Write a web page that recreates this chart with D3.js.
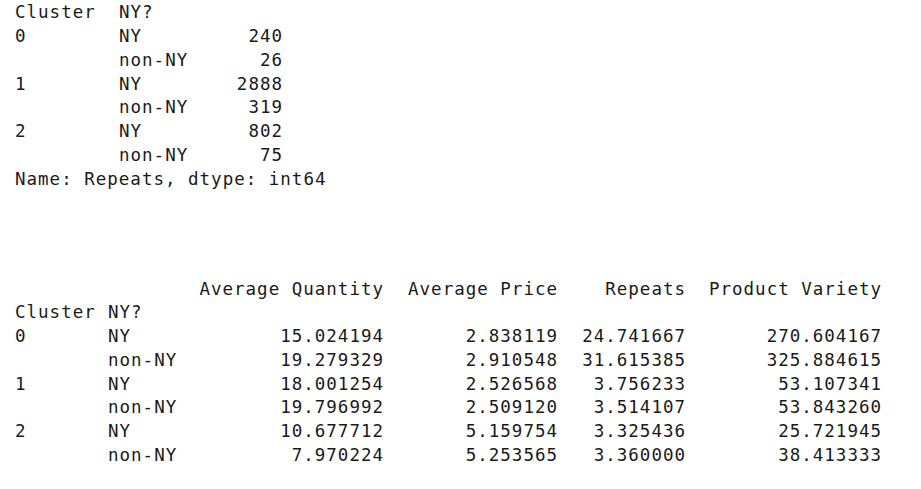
<!DOCTYPE html>
<html><head><meta charset="utf-8">
<script src="https://cdn.jsdelivr.net/npm/d3@7"></script>
<style>body{margin:0;background:#fff}</style>
</head><body>
<script>
const clusters = ["0","","1","","2",""];
const region = ["NY","non-NY","NY","non-NY","NY","non-NY"];
const repeatCounts = [240,26,2888,319,802,75];
const columns = ["Average Quantity","Average Price","Repeats","Product Variety"];
const avgQuantity = ["15.024194","19.279329","18.001254","19.796992","10.677712","7.970224"];
const avgPrice = ["2.838119","2.910548","2.526568","2.509120","5.159754","5.253565"];
const repeats = ["24.741667","31.615385","3.756233","3.514107","3.325436","3.360000"];
const variety = ["270.604167","325.884615","53.107341","53.843260","25.721945","38.413333"];

const W=921,H=489;
const svg=d3.select("body").append("svg").attr("width",W).attr("height",H)
  .style("font-family","'DejaVu Sans Mono', monospace").style("font-size","17.5px")
  .style("letter-spacing","1px").style("fill","#1a1a1a");
const t=(x,y,s,anchor)=>svg.append("text").attr("x",anchor==="end"?x+1:x).attr("y",y).attr("text-anchor",anchor||"start").attr("xml:space","preserve").text(s);

// table 1
const y1=d3.scaleLinear().domain([0,1]).range([42,65.8]);
t(15,18,"Cluster");t(119,18,"NY?");
region.forEach((r,i)=>{t(15,y1(i),clusters[i]);t(119,y1(i),r);t(282,y1(i),String(repeatCounts[i]),"end");});
t(15,y1(6),"Name: Repeats, dtype: int64");

// table 2
const y2=d3.scaleLinear().domain([0,1]).range([342,365.8]);
const colEnds=[383,557,685,881];
const cols=[avgQuantity,avgPrice,repeats,variety];
columns.forEach((c,j)=>t(colEnds[j],295,c,"end"));
t(15,318,"Cluster");t(108,318,"NY?");
region.forEach((r,i)=>{
  t(15,y2(i),clusters[i]);t(108,y2(i),r);
  cols.forEach((col,j)=>t(colEnds[j],y2(i),col[i],"end"));
});
</script>
</body></html>
